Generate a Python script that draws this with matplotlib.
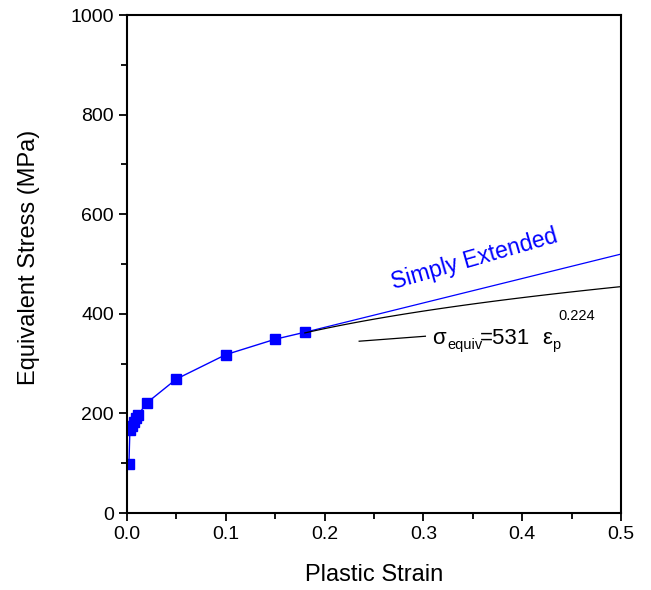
import numpy as np
import matplotlib
matplotlib.use("Agg")
import matplotlib.pyplot as plt
from matplotlib.ticker import MultipleLocator
from matplotlib.transforms import offset_copy

plt.rcParams['font.family'] = ['Liberation Sans', 'DejaVu Sans']

# measured flow curve
strain = [0.002, 0.003, 0.005, 0.007, 0.009, 0.011, 0.02, 0.05, 0.1, 0.15, 0.18]
stress = [98, 167, 175, 183, 190, 196, 221, 269, 318, 349, 363]

# extrapolations beyond the last point
ext_strain = [0.18, 0.5]
ext_stress = [363, 520]
K = 531
n = 0.224

fig = plt.figure(figsize=(6.51, 5.90), dpi=100)
ax = fig.add_axes([0.195, 0.1305, 0.759, 0.844])

ax.plot(strain, stress, color='#0000ff', lw=1.0, marker='s', ms=6.5,
        mec='#0000ff', mfc='#0000ff')
ax.plot(ext_strain, ext_stress, color='#0000ff', lw=0.9)
ep = np.linspace(0.18, 0.5, 100)
ax.plot(ep, K * ep ** n, color='black', lw=0.9)

ax.text(0.352, 510, 'Simply Extended', color='#0000ff', fontsize=16.5,
        rotation=16, ha='center', va='center')

# power-law label, built piece by piece (offsets in pixels)
ax.plot([0.235, 0.302], [345, 355], color='black', lw=0.9)
lbl_x, lbl_y = 0.3087, 339
pieces = [('σ', 0, 0, 16),
          ('equiv', 15, -5, 10.5),
          ('=%d' % K, 48, 0, 16),
          ('ε', 110, 0, 16),
          ('p', 120, -5, 10.5),
          ('%.3f' % n, 126, 24, 10.5)]
for s, dx, dy, fs in pieces:
    tr = offset_copy(ax.transData, fig=fig, x=dx, y=dy, units='dots')
    ax.text(lbl_x, lbl_y, s, transform=tr, fontsize=fs,
            ha='left', va='baseline')

ax.set_xlim(0, 0.5)
ax.set_ylim(0, 1000)
ax.xaxis.set_major_locator(MultipleLocator(0.1))
ax.xaxis.set_minor_locator(MultipleLocator(0.05))
ax.yaxis.set_major_locator(MultipleLocator(200))
ax.yaxis.set_minor_locator(MultipleLocator(100))
ax.xaxis.set_major_formatter(plt.FuncFormatter(lambda v, p: f'{v:.1f}'))
ax.tick_params(which='major', direction='out', length=6, width=1.3, labelsize=14)
ax.tick_params(which='minor', direction='out', length=4, width=1.3)
ax.tick_params(top=False, right=False, which='both')
for s in ax.spines.values():
    s.set_linewidth(1.5)

ax.set_xlabel('Plastic Strain', fontsize=17, labelpad=15)
ax.set_ylabel('Equivalent Stress (MPa)', fontsize=17, labelpad=22)
ax.yaxis.label.set_y(0.514)

fig.savefig('out.png', dpi=100)
